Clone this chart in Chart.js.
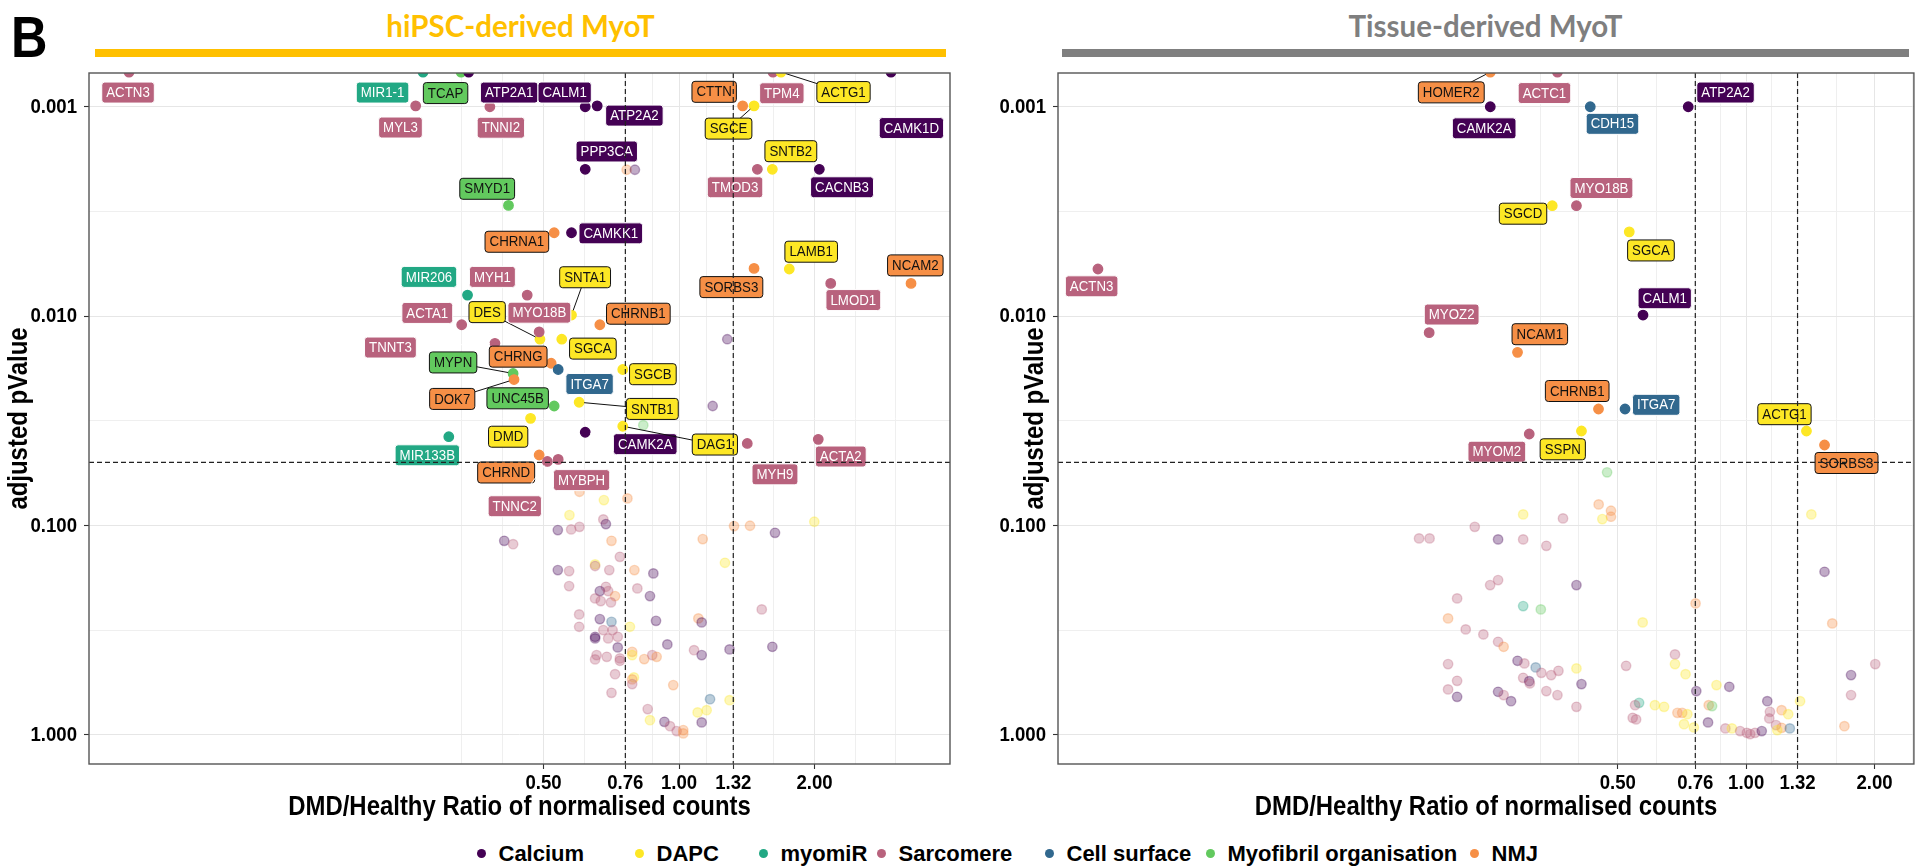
<!DOCTYPE html>
<html>
<head>
<meta charset="utf-8">
<script src="https://cdn.jsdelivr.net/npm/chart.js@4.4.1/dist/chart.umd.min.js"></script>
<style>
  html, body { margin: 0; padding: 0; background: #fff; }
  body { width: 1919px; height: 866px; overflow: hidden; position: relative;
         font-family: "Liberation Sans", Arial, sans-serif; }
  .abs { position: absolute; }
  #panelLetter { left: 11px; top: 9px; font-size: 57px; font-weight: bold; line-height: 57px; color: #000;
                 transform: scaleX(0.886); transform-origin: left top; }
  .ptitle { top: 7px; height: 38px; line-height: 38px; text-align: center; white-space: nowrap;
            font-family: Lato, "Liberation Sans", sans-serif; font-weight: bold; font-size: 29.5px; }
  .pbar { top: 49px; height: 8px; }
  .lg { position: absolute; top: 838px; height: 32px; line-height: 32px; font-weight: bold;
        font-size: 22px; color: #000; white-space: nowrap; }
  .lg i { display: inline-block; width: 9px; height: 9px; border-radius: 50%; margin-right: 13px;
          vertical-align: middle; position: relative; top: -2px; }
</style>
</head>
<body>
<div id="panelLetter" class="abs">B</div>
<div class="abs ptitle" style="left:95px;width:851px;color:#FFC000">hiPSC-derived MyoT</div>
<div class="abs pbar" style="left:95px;width:851px;background:#FFC000"></div>
<div class="abs ptitle" style="left:1062px;width:847px;color:#7F7F7F">Tissue-derived MyoT</div>
<div class="abs pbar" style="left:1062px;width:847px;background:#7F7F7F"></div>
<canvas id="hipscChart" class="abs" style="left:0;top:60px"></canvas>
<canvas id="tissueChart" class="abs" style="left:975px;top:60px"></canvas>
<div id="legend"></div>
<script>
// ---- categories -------------------------------------------------------
const groups = ['Calcium', 'DAPC', 'myomiR', 'Sarcomere', 'Cell surface', 'Myofibril organisation', 'NMJ'];
const groupColors = ['#440154', '#FDE725', '#22A884', '#B8627D', '#31688E', '#62C95E', '#F68F46'];
const groupTextColors = ['#ffffff', '#111111', '#ffffff', '#ffffff', '#ffffff', '#111111', '#111111'];

// ---- axis breaks, titles and cut-offs --------------------------------
const ratioBreaks = [0.5, 0.76, 1, 1.32, 2];
const ratioBreakLabels = ['0.50', '0.76', '1.00', '1.32', '2.00'];
const padjBreaks = [0.001, 0.01, 0.1, 1];
const padjBreakLabels = ['0.001', '0.010', '0.100', '1.000'];
const ratioCutoffs = [0.76, 1.32];
const padjCutoff = 0.05;
const xTitle = 'DMD/Healthy Ratio of normalised counts';
const yTitle = 'adjusted pValue';

// ---- hiPSC-derived MyoT ----------------------------------------------
const hipscGene = ['ACTN3','MIR1-1','TCAP','ATP2A1','TPM4','ACTG1','CAMK1D','MYL3','TNNI2','CALM1',
  'ATP2A2','CTTN','SGCE','PPP3CA','TMOD3','SNTB2','CACNB3','SMYD1','CHRNA1','CAMKK1',
  'LAMB1','SORBS3','NCAM2','LMOD1','MIR206','MYH1','SNTA1','ACTA1','CHRNB1','DES',
  'MYO18B','SGCA','TNNT3','CHRNG','ITGA7','SGCB','MYPN','DOK7','SNTB1','UNC45B',
  'DMD','CAMK2A','DAG1','MIR133B','ACTA2','MYH9','CHRND','MYBPH','TNNC2'];
const hipscGroup = [3,2,5,0,3,1,0,3,3,0, 0,6,1,0,3,1,0,5,6,0, 1,6,6,3,2,3,1,3,6,1,
  3,1,3,6,4,1,5,6,1,5, 1,0,1,2,3,3,6,3,3,
  0,0,5,6,0,
  6,1,6,1,3,0,0,3,3,6, 0,3,6,6,0,1,6,3,1,3, 1,0,3,3,6,0,3,3,0,3, 3,0,6,3,3,3,3,3,0,4,
  0,6,0,3,3,3,1,0,0,3, 3,0,0,3,0,0,0,6,1,6, 3,6,3,3,3,3,3,3,1,6, 3,6,3,4,1,1,1,3,1,0,
  3,0,3,6,6];
const hipscRatio = [0.060,0.270,0.328,0.341,1.617,1.685,2.958,0.260,0.380,0.619,
  0.658,1.385,1.468,0.619,1.493,1.612,2.050,0.418,0.528,0.577,
  1.758,1.468,3.277,2.173,0.339,0.460,0.577,0.329,0.667,0.491,
  0.489,0.549,0.390,0.520,0.539,0.750,0.428,0.430,0.600,0.528,
  0.468,0.619,0.750,0.308,2.039,1.418,0.489,0.539,0.510,
  1.280,1.188,0.833,0.765,0.798,
  0.601,0.681,0.768,0.571,0.679,0.688,0.538,0.576,0.601,0.708,
  0.409,0.428,1.325,1.438,1.634,1.998,1.129,0.739,0.651,0.651,
  1.265,0.538,0.570,0.700,0.796,0.877,0.570,0.688,0.667,0.696,
  0.808,0.862,0.721,0.651,0.670,0.706,1.527,0.600,0.667,0.708,
  0.889,1.104,1.123,0.600,0.679,0.712,0.778,0.651,0.651,0.696,
  0.731,0.731,0.942,1.080,1.123,1.295,1.612,0.787,0.787,0.837,
  0.872,0.892,0.656,0.651,0.691,0.739,0.739,0.721,0.794,0.787,
  0.787,0.971,0.708,1.172,1.295,1.152,1.100,0.852,0.862,0.928,
  0.955,1.123,0.988,1.022,1.022];
const hipscPadj = [0.000683,0.000683,0.000683,0.000683,0.000683,0.000683,0.000683,0.00099,0.00100,0.00100,
  0.00099,0.00099,0.00099,0.00199,0.00199,0.00199,0.00199,0.00296,0.00400,0.00400,
  0.00596,0.00592,0.00698,0.00698,0.00794,0.00794,0.00989,0.0110,0.0110,0.0129,
  0.0119,0.0129,0.0135,0.0168,0.0180,0.0180,0.0188,0.0201,0.0258,0.0269,
  0.0308,0.0359,0.0336,0.0377,0.0388,0.0406,0.0461,0.0484,0.0495,
  0.0129,0.0269,0.0332,0.0020,0.0020,
  0.0691,0.0757,0.0743,0.0893,0.0936,0.0986,0.1053,0.1045,0.1016,0.1185,
  0.1185,0.1229,0.1008,0.1004,0.1085,0.0961,0.1163,0.1413,0.1536,0.1564,
  0.1509,0.1635,0.1653,0.1635,0.1635,0.1696,0.1950,0.1965,0.2060,0.2060,
  0.2000,0.2177,0.2177,0.2233,0.2300,0.2333,0.2519,0.2662,0.2804,0.2889,
  0.2857,0.2782,0.2907,0.3051,0.3164,0.3164,0.3051,0.3406,0.3467,0.3467,
  0.3406,0.3827,0.3703,0.3944,0.4166,0.3913,0.3802,0.4018,0.4166,0.4353,
  0.4166,0.4245,0.4166,0.4367,0.4245,0.4319,0.4435,0.5135,0.5324,0.5443,
  0.5731,0.5794,0.6307,0.6761,0.6836,0.7630,0.7826,0.7545,0.8517,0.8677,
  0.9098,0.8735,0.9612,0.9506,0.9858];

// ---- Tissue-derived MyoT ---------------------------------------------
const tissueGene = ['HOMER2','ACTC1','CAMK2A','CDH15','ATP2A2','SGCD','MYO18B','SGCA','ACTN3','CALM1',
  'MYOZ2','NCAM1','CHRNB1','ITGA7','SSPN','MYOM2','ACTG1','SORBS3'];
const tissueGroup = [6,3,0,4,0,1,3,1,3,0, 3,6,6,4,1,3,1,6,
  5,6,6,6,1,1,3,3,0,3, 3,3,3,1,0,6,1,6,0,3, 3,3,2,5,6,3,3,3,6,3,
  0,3,4,3,3,3,3,0,3,1, 0,3,3,0,0,3,0,3,3,3, 3,3,1,1,1,0,0,2,3,1,
  1,3,3,6,6,1,1,1,0,6, 5,3,1,3,3,3,3,0,0,3, 3,3,6,1,6,4,1,1,6,0,
  3,3];
const tissueRatio = [0.2512,0.361,0.2512,0.431,0.7315,0.351,0.400,0.532,0.0302,0.573,
  0.1806,0.291,0.4506,0.520,0.411,0.310,1.385,1.527,
  0.472,0.451,0.482,0.482,0.460,0.300,0.372,0.231,0.262,0.300,
  0.340,0.171,0.181,1.422,1.527,0.761,0.572,1.592,0.400,0.262,
  0.251,0.210,0.300,0.330,0.200,0.220,0.242,0.262,0.270,0.200,
  0.291,0.302,0.321,0.331,0.349,0.363,0.300,0.310,0.311,0.400,
  0.411,0.200,0.210,0.210,0.262,0.270,0.281,0.340,0.361,0.400,
  0.523,0.681,0.681,0.721,0.852,0.913,0.764,0.561,0.549,0.611,
  0.642,0.542,0.552,0.690,0.708,0.728,0.715,0.754,0.814,0.817,
  0.832,0.894,0.926,0.968,1.004,1.022,1.049,1.088,1.121,1.137,
  1.133,1.175,1.211,1.255,1.211,1.266,1.183,1.338,1.700,1.762,
  1.762,2.008];
const tissuePadj = [0.000683,0.000683,0.00100,0.00100,0.00100,0.00297,0.00297,0.00396,0.00596,0.00989,
  0.0120,0.0149,0.0278,0.0278,0.0354,0.0366,0.0354,0.0413,
  0.0558,0.0794,0.0851,0.0909,0.0933,0.0886,0.0926,0.1016,0.1167,0.1167,
  0.1252,0.1154,0.1154,0.0886,0.1666,0.2359,0.2907,0.2939,0.1929,0.1825,
  0.1929,0.2233,0.2430,0.2519,0.2782,0.3140,0.3318,0.3598,0.3802,0.4600,
  0.4435,0.4564,0.4769,0.5061,0.5191,0.4951,0.5348,0.5546,0.5688,0.4822,
  0.5731,0.6075,0.5527,0.6590,0.6237,0.6468,0.6912,0.6190,0.6468,0.7357,
  0.4686,0.4134,0.4600,0.5135,0.5794,0.5903,0.6190,0.7042,0.7222,0.7222,
  0.7357,0.8304,0.8451,0.7860,0.7860,0.7973,0.8900,0.9228,0.8735,0.7222,
  0.7301,0.9330,0.9330,0.9612,0.9792,0.9933,0.9792,0.9612,0.6912,0.7774,
  0.8360,0.8997,0.7630,0.7973,0.9268,0.9330,0.9506,0.6912,0.9098,0.5191,
  0.6468,0.4600];

// ---- label placement (pixel offset of each label box from its point) -----
const hipscLabelOffset = {
  'ACTN3': [-1, 20.5], 'MIR1-1': [-40.5, 20.5], 'TCAP': [-15.5, 21], 'ATP2A1': [40.5, 20.5],
  'TPM4': [8.9, 21.2], 'ACTG1': [62.5, 20], 'CAMK1D': [20.4, 56], 'MYL3': [-15.2, 21.7],
  'TNNI2': [11, 21], 'CALM1': [-20.6, -14.2], 'ATP2A2': [37.2, 9.8], 'CTTN': [-28.5, -14],
  'SGCE': [-25.5, 22.8], 'PPP3CA': [21.5, -17.8], 'TMOD3': [-22.3, 18], 'SNTB2': [18.5, -18.1],
  'CACNB3': [22.7, 18], 'SMYD1': [-21.3, -16.6], 'CHRNA1': [-37.3, 9], 'CAMKK1': [39.3, 0.6],
  'LAMB1': [21.9, -17.3], 'SORBS3': [-22.7, 18.7], 'NCAM2': [4.3, -18], 'LMOD1': [22.6, 16.7],
  'MIR206': [-38.6, -18.2], 'MYH1': [-34.8, -18.2], 'SNTA1': [13.6, -37.8], 'ACTA1': [-34.4, -11.8],
  'CHRNB1': [38.5, -11], 'DES': [-52.8, -27.1], 'MYO18B': [0.2, -19.2], 'SGCA': [31.1, 9.4],
  'TNNT3': [-104.5, 4.2], 'CHRNG': [-33, -6.6], 'ITGA7': [31.4, 14.5], 'SGCB': [30.1, 4.7],
  'MYPN': [-60, -11], 'DOK7': [-61.8, 19.4], 'SNTB1': [73.2, 6.7], 'UNC45B': [-36.5, -7.7],
  'DMD': [-22.4, 18.4], 'CAMK2A': [60, 11.9], 'DAG1': [92.1, 18.3], 'MIR133B': [-21.5, 18.6],
  'ACTA2': [22.5, 17.2], 'MYH9': [27.7, 30.9], 'CHRND': [-33, 17.5], 'MYBPH': [23.4, 20.7],
  'TNNC2': [-32.6, 44.8]
};
const hipscLeaders = ['SGCE', 'ACTG1', 'DES', 'SNTA1', 'MYPN', 'DOK7', 'SNTB1', 'DAG1', 'TNNC2', 'TNNT3', 'CAMK2A'];
const tissueLabelOffset = {
  'HOMER2': [-39, 20.3], 'ACTC1': [-13, 21], 'CAMK2A': [-6.1, 21.6], 'CDH15': [22.2, 17.1],
  'ATP2A2': [37.3, -14.2], 'SGCD': [-29.2, 8], 'MYO18B': [25, -17.7], 'SGCA': [21.7, 18.6],
  'ACTN3': [-6.3, 17.3], 'CALM1': [21.7, -16.8], 'MYOZ2': [22.5, -18.1], 'NCAM1': [22.3, -18.1],
  'CHRNB1': [-21.3, -18], 'ITGA7': [31.2, -4.2], 'SSPN': [-18.7, 18.3], 'MYOM2': [-32.4, 17.7],
  'ACTG1': [-22, -16.8], 'SORBS3': [22, 18]
};
const tissueLeaders = ['HOMER2'];

// ---- drawing ----------------------------------------------------------
const FONT = '"Liberation Sans", Arial, sans-serif';
const LABEL_FONT = '15px ' + FONT;
const TICK_FONT = 'bold 21px ' + FONT;
const TITLE_FONT = 'bold 27px ' + FONT;
const SQUEEZE = 0.886;          // narrow glyph width used for all axis and label text
const LABEL_PAD_X = 4.5;
const LABEL_H = 21;

const isSignificant = (r, p) => p < padjCutoff && (r < ratioCutoffs[0] || r > ratioCutoffs[1]);

function hexToRgba(hex, a) {
  const n = parseInt(hex.slice(1), 16);
  return `rgba(${(n >> 16) & 255},${(n >> 8) & 255},${n & 255},${a})`;
}

// text drawn with horizontally condensed glyphs
function narrowText(ctx, text, x, y, font, align, angle) {
  ctx.save();
  ctx.translate(x, y);
  if (angle) ctx.rotate(angle);
  ctx.scale(SQUEEZE, 1);
  ctx.font = font;
  ctx.textAlign = align;
  ctx.textBaseline = 'middle';
  ctx.fillText(text, 0, 0);
  ctx.restore();
}

// major breaks plus minor lines halfway (in log space) between neighbouring breaks
function logGrid(breaks, labels, min, max) {
  const n = breaks.length;
  const ext = [breaks[0] * breaks[0] / breaks[1], ...breaks, breaks[n - 1] * breaks[n - 1] / breaks[n - 2]];
  const out = [];
  ext.forEach((v, i) => {
    const major = i > 0 && i < ext.length - 1;
    out.push({ value: v, lbl: major ? labels[i - 1] : '' });
    if (i < ext.length - 1) out.push({ value: Math.sqrt(v * ext[i + 1]), lbl: '' });
  });
  return out.filter(t => t.value >= min && t.value <= max);
}

function overlayPlugin(panel, geom) {
  return {
    id: 'panelOverlay',
    afterDatasetsDraw(chart) {
      const { ctx, chartArea: a } = chart;
      const xs = chart.scales.x, ys = chart.scales.y;
      ctx.save();
      // gene labels
      ctx.font = LABEL_FONT;
      panel.gene.forEach((name, i) => {
        if (!name || !isSignificant(panel.ratio[i], panel.padj[i])) return;
        const off = panel.labelOffset[name];
        if (!off) return;
        const px = xs.getPixelForValue(panel.ratio[i]);
        const py = ys.getPixelForValue(panel.padj[i]);
        const cx = px + off[0], cy = py + off[1];
        const g = panel.group[i];
        const fg = groupTextColors[g];
        ctx.font = LABEL_FONT;
        const w = ctx.measureText(name).width * SQUEEZE + 2 * LABEL_PAD_X;
        if (panel.leaders.includes(name)) {
          const dx = cx - px, dy = cy - py, d = Math.hypot(dx, dy);
          ctx.beginPath();
          ctx.moveTo(px + dx / d * 5, py + dy / d * 5);
          ctx.lineTo(cx, cy);
          ctx.strokeStyle = fg;
          ctx.lineWidth = 1;
          ctx.stroke();
        }
        ctx.beginPath();
        ctx.roundRect(cx - w / 2, cy - LABEL_H / 2, w, LABEL_H, 3);
        ctx.fillStyle = groupColors[g];
        ctx.fill();
        ctx.strokeStyle = fg;
        ctx.lineWidth = 1;
        ctx.stroke();
        ctx.fillStyle = fg;
        narrowText(ctx, name, cx, cy + 0.5, LABEL_FONT, 'center', 0);
      });
      // dashed cut-off guides
      ctx.save();
      ctx.beginPath();
      ctx.rect(a.left, a.top, a.right - a.left, a.bottom - a.top);
      ctx.clip();
      ctx.setLineDash([5, 3]);
      ctx.strokeStyle = '#222';
      ctx.lineWidth = 1.2;
      ratioCutoffs.forEach(v => {
        const x = xs.getPixelForValue(v);
        ctx.beginPath(); ctx.moveTo(x, a.top); ctx.lineTo(x, a.bottom); ctx.stroke();
      });
      const yc = ys.getPixelForValue(padjCutoff);
      ctx.beginPath(); ctx.moveTo(a.left, yc); ctx.lineTo(a.right, yc); ctx.stroke();
      ctx.restore();
      // panel border
      ctx.strokeStyle = '#555';
      ctx.lineWidth = 1.4;
      ctx.strokeRect(a.left, a.top, a.right - a.left, a.bottom - a.top);
      // tick labels and axis titles
      ctx.fillStyle = '#000';
      xs.ticks.forEach(t => {
        if (t.lbl) narrowText(ctx, t.lbl, xs.getPixelForValue(t.value), a.bottom + 19.5, TICK_FONT, 'center', 0);
      });
      ys.ticks.forEach(t => {
        if (t.lbl) narrowText(ctx, t.lbl, a.left - 12, ys.getPixelForValue(t.value) + 0.5, TICK_FONT, 'right', 0);
      });
      narrowText(ctx, xTitle, (a.left + a.right) / 2 + geom.xTitleShift, a.bottom + 44, TITLE_FONT, 'center', 0);
      narrowText(ctx, yTitle, a.left + geom.yTitleX, (a.top + a.bottom) / 2, TITLE_FONT, 'center', -Math.PI / 2);
      ctx.restore();
    }
  };
}

const PADJ_MIN = 0.000690, PADJ_MAX = 1.380;

function makePanel(canvasId, panel, geom) {
  const canvas = document.getElementById(canvasId);
  canvas.width = geom.width; canvas.height = geom.height;
  canvas.style.width = geom.width + 'px'; canvas.style.height = geom.height + 'px';

  const faded = [], solid = [];
  panel.ratio.forEach((r, i) => {
    const pt = { x: r, y: panel.padj[i], g: panel.group[i] };
    (isSignificant(r, panel.padj[i]) ? solid : faded).push(pt);
  });
  const pointStyle = alpha => ({
    pointRadius: 4.7,
    pointBorderWidth: 1.4,
    pointBackgroundColor: c => hexToRgba(groupColors[c.raw.g], alpha),
    pointBorderColor: c => hexToRgba(groupColors[c.raw.g], alpha),
    clip: 0
  });
  const xGrid = logGrid(ratioBreaks, ratioBreakLabels, geom.xMin, geom.xMax);
  const yGrid = logGrid(padjBreaks, padjBreakLabels, PADJ_MIN, PADJ_MAX);
  const gridStyle = {
    color: c => (c.tick && c.tick.lbl ? '#E6E6E6' : '#EFEFEF'),
    lineWidth: 1,
    tickLength: 5,
    tickWidth: 1.1,
    tickColor: c => (c.tick && c.tick.lbl ? '#333333' : 'rgba(0,0,0,0)')
  };
  // scale labels are laid out by Chart.js but painted by the overlay with narrow glyphs
  const hiddenTicks = { autoSkip: false, maxRotation: 0, minRotation: 0, padding: 3,
                        color: 'rgba(0,0,0,0)', font: { family: FONT, size: 19, weight: 'bold' },
                        callback: (v, i, ticks) => ticks[i].lbl };

  return new Chart(canvas, {
    type: 'scatter',
    data: {
      datasets: [
        Object.assign({ data: faded }, pointStyle(0.33)),
        Object.assign({ data: solid }, pointStyle(1))
      ]
    },
    options: {
      responsive: false,
      animation: false,
      events: [],
      layout: { padding: { left: 0, top: 13, right: geom.padRight, bottom: 0 } },
      plugins: { legend: { display: false }, tooltip: { enabled: false }, title: { display: false } },
      scales: {
        x: {
          type: 'logarithmic', min: geom.xMin, max: geom.xMax, bounds: 'data',
          afterBuildTicks: s => { s.ticks = xGrid.map(t => ({ ...t })); },
          afterFit: s => { s.height = geom.xAxisHeight; s.paddingLeft = 0; s.paddingRight = 0; },
          ticks: hiddenTicks,
          grid: gridStyle,
          border: { display: false },
          title: { display: false }
        },
        y: {
          type: 'logarithmic', reverse: true, min: PADJ_MIN, max: PADJ_MAX, bounds: 'data',
          afterBuildTicks: s => { s.ticks = yGrid.map(t => ({ ...t })); },
          afterFit: s => { s.width = geom.yAxisWidth; s.paddingTop = 0; s.paddingBottom = 0; },
          ticks: Object.assign({}, hiddenTicks, { padding: 7 }),
          grid: gridStyle,
          border: { display: false },
          title: { display: false }
        }
      }
    },
    plugins: [overlayPlugin(panel, geom)]
  });
}

makePanel('hipscChart', {
  gene: hipscGene, group: hipscGroup, ratio: hipscRatio, padj: hipscPadj,
  labelOffset: hipscLabelOffset, leaders: hipscLeaders
}, { width: 960, height: 775, padRight: 10, yAxisWidth: 89, xAxisHeight: 71,
     yTitleX: -69.5, xTitleShift: 0, xMin: 0.04889, xMax: 4.0 });

makePanel('tissueChart', {
  gene: tissueGene, group: tissueGroup, ratio: tissueRatio, padj: tissuePadj,
  labelOffset: tissueLabelOffset, leaders: tissueLeaders
}, { width: 945, height: 775, padRight: 0, yAxisWidth: 83, xAxisHeight: 71,
     yTitleX: -22.5, xTitleShift: 0, xMin: 0.02434, xMax: 2.474 });

// ---- legend -------------------------------------------------------------
const legendDotX = [481, 639, 763, 881, 1049, 1210, 1474];
const legend = document.getElementById('legend');
groups.forEach((name, i) => {
  const item = document.createElement('div');
  item.className = 'lg';
  item.style.left = (legendDotX[i] - 4.5) + 'px';
  item.innerHTML = `<i style="background:${groupColors[i]}"></i>${name}`;
  legend.appendChild(item);
});
</script>
</body>
</html>
